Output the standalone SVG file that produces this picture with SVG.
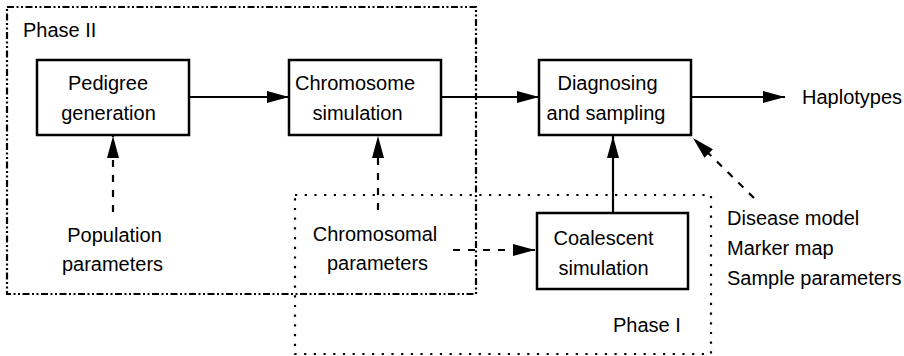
<svg xmlns="http://www.w3.org/2000/svg" width="904" height="356" viewBox="0 0 904 356">
<style>
text{font-family:"Liberation Sans",Arial,sans-serif;font-size:20px;fill:#000}
.box{fill:#fff;stroke:#000;stroke-width:2.5}
.ln{fill:none;stroke:#000;stroke-width:2.2}
.dash{stroke-dasharray:7 8}
.ph1{fill:none;stroke:#000;stroke-width:2.2;stroke-dasharray:2.2 7.5}
.ph2{fill:none;stroke:#000;stroke-width:2.2;stroke-dasharray:7 2.5 2 2.5 2 2.5}
.m{text-anchor:middle}
</style>
<defs>
<marker id="ah" markerUnits="userSpaceOnUse" markerWidth="24" markerHeight="14" refX="22" refY="6" orient="auto">
<path d="M0,0 L22,6 L0,12 z" fill="#000"/>
</marker>
</defs>
<g id="phase2">
<rect class="ph2" x="7" y="7" width="469" height="287"/>
<text x="23" y="37">Phase II</text>
</g>
<g id="phase1">
<rect class="ph1" x="295" y="195" width="416" height="159"/>
<text x="613" y="332">Phase I</text>
</g>
<g id="connectors">
<path class="ln" d="M189,97 L289,97" marker-end="url(#ah)"/>
<path class="ln" d="M441,97 L539,97" marker-end="url(#ah)"/>
<path class="ln" d="M691,97 L785,97" marker-end="url(#ah)"/>
<path class="ln" d="M613,213 L613,136" marker-end="url(#ah)"/>
<path class="ln dash" d="M113,212 L113,136" marker-end="url(#ah)"/>
<path class="ln dash" d="M378,210 L378,136" marker-end="url(#ah)"/>
<path class="ln dash" d="M453,250 L535,250" marker-end="url(#ah)"/>
<path class="ln dash" d="M754,198 L693,138" marker-end="url(#ah)"/>
</g>
<g id="pedigree">
<rect class="box" x="37" y="60" width="152" height="75"/>
<text class="m" x="108" y="89.5">Pedigree</text>
<text class="m" x="108.5" y="119.5">generation</text>
</g>
<g id="chromosome">
<rect class="box" x="289" y="60" width="152" height="75"/>
<text class="m" x="355" y="90">Chromosome</text>
<text class="m" x="357.5" y="120">simulation</text>
</g>
<g id="diagnosing">
<rect class="box" x="539" y="60" width="152" height="75"/>
<text class="m" x="607.5" y="89.5">Diagnosing</text>
<text class="m" x="606" y="119.5">and sampling</text>
</g>
<g id="coalescent">
<rect class="box" x="537" y="213" width="151" height="76"/>
<text class="m" x="603.5" y="245">Coalescent</text>
<text class="m" x="603.5" y="275">simulation</text>
</g>
<g id="population">
<text class="m" x="114.5" y="242">Population</text>
<text class="m" x="112.5" y="271">parameters</text>
</g>
<g id="chromosomal">
<text class="m" x="375" y="241">Chromosomal</text>
<text class="m" x="377.5" y="270">parameters</text>
</g>
<g id="haplotypes">
<text x="802" y="104">Haplotypes</text>
</g>
<g id="inputs">
<text x="727" y="225">Disease model</text>
<text x="727" y="255">Marker map</text>
<text x="727" y="285">Sample parameters</text>
</g>
</svg>
